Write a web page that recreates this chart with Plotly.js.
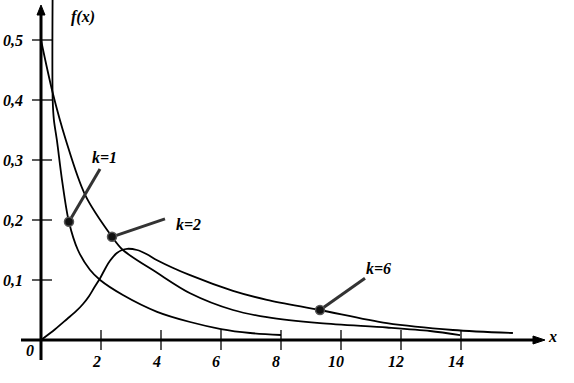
<!DOCTYPE html>
<html>
<head>
<meta charset="utf-8">
<script src="https://cdn.plot.ly/plotly-3.0.1.min.js"></script>
<style>html,body{margin:0;padding:0;background:#fff;}#chart{width:574px;height:383px;}</style>
</head>
<body>
<div id="chart"></div>
<script>
// ---- data ----
const k1x = [0.39, 0.39, 0.43, 0.53, 0.70, 0.93, 1.23, 1.63, 1.97, 2.73, 3.87, 4.97, 6.0, 6.97, 8.0];
const k1y = [0.60, 0.40, 0.367, 0.333, 0.267, 0.197, 0.150, 0.117, 0.100, 0.075, 0.047, 0.030, 0.0183, 0.0117, 0.0083];

const k2x = [0, 0.39, 0.83, 1.47, 2.37, 2.73, 3.87, 4.97, 6.4, 7.53, 9.3, 11.53, 12.97, 13.97];
const k2y = [0.5, 0.412, 0.333, 0.242, 0.172, 0.150, 0.112, 0.078, 0.050, 0.038, 0.028, 0.0208, 0.015, 0.0083];

const k6x = [0, 0.47, 0.87, 1.17, 1.4, 1.6, 1.77, 1.97, 2.13, 2.3, 2.53, 2.7, 2.87, 3.2, 3.53, 3.87, 4.97, 6.4, 7.53, 9.3, 11.53, 13.73, 15.73];
const k6y = [0, 0.018, 0.035, 0.048, 0.060, 0.073, 0.087, 0.103, 0.118, 0.132, 0.145, 0.150, 0.152, 0.150, 0.143, 0.133, 0.108, 0.082, 0.067, 0.050, 0.028, 0.0167, 0.0117];

const labelNames = ['k=1', 'k=2', 'k=6'];
const dotX = [0.933, 2.367, 9.3];
const dotY = [0.197, 0.172, 0.050];
const pointerEndX = [1.967, 4.133, 10.8];
const pointerEndY = [0.285, 0.202, 0.103];
const labelX = [2.133, 4.9, 11.25];
const labelY = [0.305, 0.193, 0.12];

const xTicks = [2, 4, 6, 8, 10, 12, 14];
const xTickLabels = ['2', '4', '6', '8', '10', '12', '14'];
const yTicks = [0.1, 0.2, 0.3, 0.4, 0.5];
const yTickLabels = ['0,1', '0,2', '0,3', '0,4', '0,5'];

// ---- drawing ----
const XR = [-41/30, (574-41)/30];
const YR = [-43/600, 340/600];
const pxX = 1/30, pxY = 1/600; // data units per pixel

const mkFont = () => ({family: 'Liberation Serif', size: 16, color: '#000'});
const bi = s => '<b><i>' + s + '</i></b>';

const curve = (x, y) => ({x: x, y: y, type: 'scatter', mode: 'lines',
  line: {color: '#000', width: 1.8, shape: 'spline', smoothing: 0.9},
  hoverinfo: 'skip', showlegend: false});

const traces = [curve(k1x, k1y), curve(k2x, k2y), curve(k6x, k6y)];

for (let i = 0; i < dotX.length; i++) {
  traces.push({x: [dotX[i], pointerEndX[i]], y: [dotY[i], pointerEndY[i]], type: 'scatter', mode: 'lines',
    line: {color: '#333', width: 3}, showlegend: false, hoverinfo: 'skip'});
}
traces.push({x: dotX, y: dotY, type: 'scatter', mode: 'markers',
  marker: {size: 9, color: '#111', line: {color: '#555', width: 1.5}}, showlegend: false, hoverinfo: 'skip'});

const shapes = [];
shapes.push({type: 'line', xref: 'x', yref: 'y', x0: -20*pxX, x1: 534*pxX - 41*pxX, y0: 0, y1: 0, line: {color: '#000', width: 3}});
shapes.push({type: 'line', xref: 'x', yref: 'y', x0: 0, x1: 0, y0: -20*pxY, y1: 330*pxY, line: {color: '#000', width: 3}});
xTicks.forEach(t => shapes.push({type: 'line', xref: 'x', yref: 'y', x0: t, x1: t, y0: -10*pxY, y1: 10*pxY, line: {color: '#000', width: 1.3}}));
yTicks.forEach(t => shapes.push({type: 'line', xref: 'x', yref: 'y', x0: -9*pxX, x1: 11*pxX, y0: t, y1: t, line: {color: '#000', width: 1.3}}));
const xTip = (545-41)*pxX, yTip = (340-5)*pxY;
shapes.push({type: 'path', xref: 'x', yref: 'y', fillcolor: '#000', line: {color: '#000', width: 1},
  path: `M ${xTip} 0 L ${xTip - 12*pxX} ${4*pxY} L ${xTip - 12*pxX} ${-4*pxY} Z`});
shapes.push({type: 'path', xref: 'x', yref: 'y', fillcolor: '#000', line: {color: '#000', width: 1},
  path: `M 0 ${yTip} L ${4*pxX} ${yTip - 10*pxY} L ${-4*pxX} ${yTip - 10*pxY} Z`});

const annotations = [];
xTicks.forEach((t, i) => annotations.push({x: t, y: 0, xref: 'x', yref: 'y', text: bi(xTickLabels[i]), showarrow: false,
  font: mkFont(), xanchor: 'center', yanchor: 'middle', xshift: -5, yshift: -21}));
yTicks.forEach((t, i) => annotations.push({x: 0, y: t, xref: 'x', yref: 'y', text: bi(yTickLabels[i]), showarrow: false,
  font: mkFont(), xanchor: 'right', yanchor: 'middle', xshift: -16, yshift: 0}));
annotations.push({x: 0, y: 0, xref: 'x', yref: 'y', text: bi('0'), showarrow: false, font: mkFont(), xanchor: 'center', yanchor: 'middle', xshift: -11, yshift: -10});
annotations.push({x: 0, y: 0.5, xref: 'x', yref: 'y', text: bi('f(x)'), showarrow: false, font: mkFont(), xanchor: 'center', yanchor: 'middle', xshift: 42, yshift: 23});
annotations.push({x: xTip, y: 0, xref: 'x', yref: 'y', text: bi('x'), showarrow: false, font: mkFont(), xanchor: 'center', yanchor: 'middle', xshift: 7, yshift: 4});
labelNames.forEach((n, i) => annotations.push({x: labelX[i], y: labelY[i], xref: 'x', yref: 'y', text: bi(n), showarrow: false,
  font: mkFont(), xanchor: 'center', yanchor: 'middle'}));

const layout = {
  width: 574, height: 383,
  margin: {l: 0, r: 0, t: 0, b: 0, pad: 0},
  paper_bgcolor: '#fff', plot_bgcolor: '#fff',
  font: {family: 'Liberation Serif', size: 16, color: '#000'},
  xaxis: {range: XR, showgrid: false, zeroline: false, showticklabels: false, ticks: '', showline: false, fixedrange: true},
  yaxis: {range: YR, showgrid: false, zeroline: false, showticklabels: false, ticks: '', showline: false, fixedrange: true},
  shapes: shapes,
  annotations: annotations,
  showlegend: false
};

Plotly.newPlot('chart', traces, layout, {staticPlot: true, displayModeBar: false});
</script>
</body>
</html>
